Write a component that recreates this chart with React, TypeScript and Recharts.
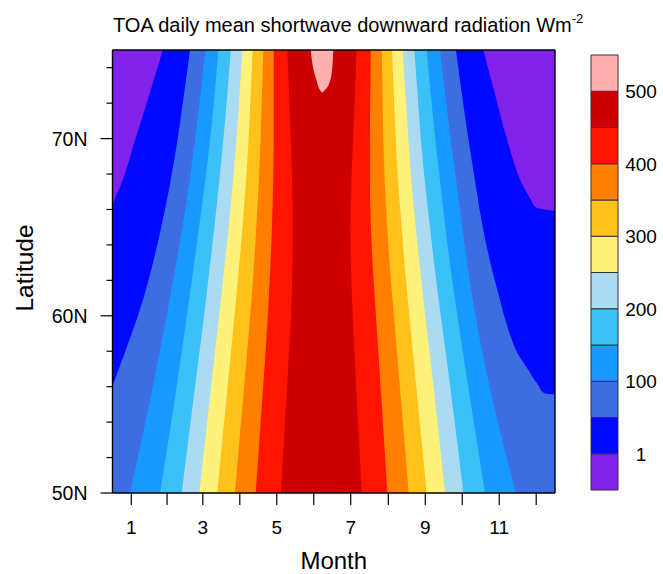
import React from 'react';
import { ComposedChart, Area, XAxis, YAxis, BarChart, Bar } from 'recharts';

const FONT = '"Liberation Sans", Arial, Helvetica, sans-serif';

// Contour levels (W m-2); band i sits between LEVELS[i-1] and LEVELS[i]
const LEVELS = [1, 50, 100, 150, 200, 250, 300, 350, 400, 450, 500];
const BAND_COLORS = [
  '#8122ea', '#0008ff', '#3c6ee2', '#1799ff', '#3bc0f8', '#acdaf1',
  '#fff27b', '#ffc21a', '#ff8000', '#ff1400', '#cc0000', '#ffb1b1',
];

// Month ticks placed at the middle of each month (day of year)
const MONTH_DAYS = [15.5, 45, 74.5, 105, 135.5, 166, 196.5, 227.5, 258, 288.5, 319, 349.5];
const MONTH_LABELS = ['1', '', '3', '', '5', '', '7', '', '9', '', '11', ''];
const LAT_TICKS = [50, 52, 54, 56, 58, 60, 62, 64, 66, 68, 70, 72, 74];
const LAT_LABELS: Record<number, string> = { 50: '50N', 60: '60N', 70: '70N' };

// Region where the daily mean reaches each level: [latitude, first day, last day]
const ABOVE_0 = [[50, 0, 365], [75, 0, 365]];
const ABOVE_1 = [
  [50, 0, 365], [65.9, 0, 365], [65.95, 0, 361], [66.1, 0, 350], [66.25, 0, 347.5],
  [66.5, 1.3, 345.5], [67.5, 7.5, 337.5], [70, 19, 325.2], [72.5, 30.5, 315.5], [75, 41.4, 305.9],
];
const ABOVE_50 = [
  [50, 0, 365], [55.55, 0, 365], [55.62, 0, 357], [55.8, 0, 353.5], [56, 0, 352],
  [56.3, 1.5, 348.8], [57, 5.2, 342.5], [57.5, 7.9, 337.5], [58, 10.6, 333.2],
  [59, 15.9, 327.6], [60, 21.0, 323.0], [61, 25.6, 319.2], [62.5, 31.6, 313.4],
  [65, 40.2, 305.4], [67.5, 47.6, 299.3], [70, 53.8, 293.5], [72.5, 59.0, 288.2], [75, 63.9, 283.3],
];
const ABOVE_100 = [
  [50, 14.4, 332.8], [52.5, 22.4, 323.4], [55, 30.3, 314.5], [57.5, 37.6, 306.4],
  [60, 44.6, 299.5], [62.5, 51.2, 293.5], [65, 57.6, 288.6], [67.5, 63.3, 283.9],
  [70, 68.2, 278.8], [72.5, 72.5, 274.4], [75, 76.5, 270.2],
];
const ABOVE_150 = [
  [50, 39.2, 307.3], [52.5, 45.0, 301.5], [55, 50.7, 295.7], [57.5, 56.1, 290.0],
  [60, 61.3, 284.5], [62.5, 66.4, 279.2], [65, 71.4, 274.6], [67.5, 76.2, 270.4],
  [70, 80.6, 266.2], [72.5, 84.2, 262.5], [75, 87.3, 259.2],
];
const ABOVE_200 = [
  [50, 57.1, 289.4], [52.5, 61.6, 285.0], [55, 66.2, 280.4], [57.5, 70.9, 275.7],
  [60, 75.5, 270.8], [62.5, 79.8, 266.1], [65, 84.0, 261.9], [67.5, 87.9, 257.8],
  [70, 91.5, 254.3], [72.5, 94.7, 251.6], [75, 97.5, 249.0],
];
const ABOVE_250 = [
  [50, 71.6, 274.3], [52.5, 75.6, 270.4], [55, 79.7, 266.4], [57.5, 83.8, 262.3],
  [60, 87.9, 258.0], [62.5, 91.9, 253.9], [65, 95.8, 250.1], [67.5, 99.2, 246.8],
  [70, 102.3, 244.0], [72.5, 104.8, 241.7], [75, 107.1, 239.4],
];
const ABOVE_300 = [
  [50, 86.4, 259.2], [52.5, 89.9, 255.6], [55, 93.5, 252.0], [57.5, 97.1, 248.4],
  [60, 100.6, 244.8], [62.5, 104.0, 241.5], [65, 107.2, 238.5], [67.5, 110.0, 235.7],
  [70, 112.3, 233.6], [72.5, 114.0, 232.1], [75, 115.6, 230.6],
];
const ABOVE_350 = [
  [50, 101.0, 244.3], [52.5, 104.1, 241.3], [55, 107.3, 238.3], [57.5, 110.5, 235.2],
  [60, 113.6, 232.1], [62.5, 116.3, 229.1], [65, 118.6, 226.6], [67.5, 120.6, 224.6],
  [70, 122.2, 223.4], [72.5, 123.3, 222.7], [75, 124.4, 222.1],
];
const ABOVE_400 = [
  [50, 118.1, 226.7], [52.5, 120.7, 224.4], [55, 123.2, 222.1], [57.5, 125.8, 219.7],
  [60, 128.1, 217.3], [62.5, 130.0, 214.9], [65, 131.5, 213.1], [67.5, 132.5, 212.3],
  [70, 133.0, 212.3], [72.5, 133.0, 212.6], [75, 133.0, 213.0],
];
const ABOVE_450 = [
  [50, 139.0, 205.6], [52.5, 141.0, 203.7], [55, 143.1, 201.8], [57.5, 145.3, 199.9],
  [60, 147.2, 198.2], [62.5, 148.3, 196.8], [65, 148.6, 196.2], [67.5, 148.2, 197.0],
  [70, 147.0, 198.5], [72.5, 145.6, 200.0], [75, 144.2, 201.4],
];
const ABOVE_500 = [
  [72.59, 173.0, 173.0], [72.75, 171.0, 175.5], [72.93, 169.8, 177.5],
  [73.3, 168.2, 179.7], [73.69, 166.5, 180.8], [75, 163.5, 182.1],
];

const BANDS = [
  ABOVE_0, ABOVE_1, ABOVE_50, ABOVE_100, ABOVE_150, ABOVE_200,
  ABOVE_250, ABOVE_300, ABOVE_350, ABOVE_400, ABOVE_450, ABOVE_500,
];

// One row per latitude; each band holds a [first day, last day] range or a gap
const CONTOUR_ROWS = Array.from(new Set(BANDS.flatMap((b) => b.map((p) => p[0]))))
  .sort((a, b) => a - b)
  .map((lat) => {
    const row: Record<string, any> = { lat };
    BANDS.forEach((band, i) => {
      const p = band.find((q) => q[0] === lat);
      row[`b${i}`] = p ? [p[1], p[2]] : [null, null];
    });
    return row;
  });

// Colour bar: one equal-height box per band
const COLORBAR_ROW: Record<string, any> = { name: 'bar' };
BAND_COLORS.forEach((_, i) => {
  COLORBAR_ROW[`s${i}`] = 1;
});
const COLORBAR_TICKS = LEVELS.map((_, i) => i + 1).filter((v) => v % 2 === 1);

const MAJOR_LEN = 12;
const MINOR_LEN = 6;
const LEFT_GAP = 13;
const AXIS_STROKE = '#000';

function LeftLatTick(props: any) {
  const { x, y, payload } = props;
  const edge = x + MAJOR_LEN + LEFT_GAP;
  const label = LAT_LABELS[payload.value];
  const len = label ? MAJOR_LEN : MINOR_LEN;
  return (
    <g>
      <line x1={edge - len} x2={edge} y1={y} y2={y} stroke={AXIS_STROKE} strokeWidth={1.2} />
      {label ? (
        <text x={x} y={y} dy="0.36em" textAnchor="end" fontSize={19.5} fontFamily={FONT} fill="#000">
          {label}
        </text>
      ) : null}
    </g>
  );
}

function RightLatTick(props: any) {
  const { x, y, payload } = props;
  const edge = x - MAJOR_LEN;
  const len = LAT_LABELS[payload.value] ? MAJOR_LEN : MINOR_LEN;
  return <line x1={edge} x2={edge + len} y1={y} y2={y} stroke={AXIS_STROKE} strokeWidth={1.2} />;
}

function ColorbarTick(props: any) {
  const { x, y, payload } = props;
  return (
    <text x={x} y={y} dy="0.36em" textAnchor="middle" fontSize={19} fontFamily={FONT} fill="#000">
      {String(LEVELS[payload.value - 1])}
    </text>
  );
}

export default function App() {
  return (
    <div style={{ position: 'absolute', left: 0, top: 0, width: 663, height: 574, background: '#fff' }}>
      <div style={{ position: 'absolute', left: 0, top: 0 }}>
        <ComposedChart
          layout="vertical"
          width={663}
          height={574}
          data={CONTOUR_ROWS}
          margin={{ top: 38, right: 96, bottom: 0, left: 12.5 }}
        >
          <XAxis
            xAxisId="bottom"
            type="number"
            orientation="bottom"
            domain={[0, 365]}
            ticks={MONTH_DAYS}
            interval={0}
            allowDataOverflow
            height={81}
            tickSize={MAJOR_LEN}
            tickMargin={16}
            tickFormatter={(_v: number, i: number) => MONTH_LABELS[i]}
            tick={{ fill: '#000', fontSize: 19, fontFamily: FONT }}
            tickLine={{ stroke: AXIS_STROKE, strokeWidth: 1.2 }}
            axisLine={{ stroke: AXIS_STROKE, strokeWidth: 1.4 }}
          />
          <XAxis
            xAxisId="top"
            type="number"
            orientation="top"
            domain={[0, 365]}
            ticks={MONTH_DAYS}
            interval={0}
            allowDataOverflow
            height={12}
            tickSize={MAJOR_LEN}
            tick={false}
            tickLine={{ stroke: AXIS_STROKE, strokeWidth: 1.2 }}
            axisLine={{ stroke: AXIS_STROKE, strokeWidth: 1.4 }}
          />
          <YAxis
            yAxisId="left"
            dataKey="lat"
            type="number"
            orientation="left"
            reversed
            domain={[50, 75]}
            ticks={LAT_TICKS}
            interval={0}
            allowDataOverflow
            width={100}
            tickSize={MAJOR_LEN}
            tickMargin={LEFT_GAP}
            tickLine={false}
            tick={LeftLatTick}
            axisLine={{ stroke: AXIS_STROKE, strokeWidth: 1.4 }}
          />
          <YAxis
            yAxisId="right"
            type="number"
            orientation="right"
            reversed
            domain={[50, 75]}
            ticks={LAT_TICKS}
            interval={0}
            allowDataOverflow
            width={12}
            tickSize={MAJOR_LEN}
            tickMargin={0}
            tickLine={false}
            tick={RightLatTick}
            axisLine={{ stroke: AXIS_STROKE, strokeWidth: 1.4 }}
          />
          {BANDS.map((_, i) => (
            <Area
              key={i}
              xAxisId="bottom"
              yAxisId="left"
              dataKey={`b${i}`}
              type="monotone"
              fill={BAND_COLORS[i]}
              fillOpacity={1}
              stroke="none"
              connectNulls
              dot={false}
              activeDot={false}
              isAnimationActive={false}
            />
          ))}
        </ComposedChart>
      </div>
      <div style={{ position: 'absolute', left: 581, top: 45 }}>
        <BarChart
          width={82}
          height={455}
          data={[COLORBAR_ROW]}
          margin={{ top: 10, right: 0, bottom: 10, left: 10 }}
          barCategoryGap={0}
          barGap={0}
        >
          <XAxis dataKey="name" type="category" hide />
          <YAxis
            orientation="right"
            type="number"
            domain={[0, BAND_COLORS.length]}
            ticks={COLORBAR_TICKS}
            interval={0}
            width={45}
            tickSize={0}
            tickMargin={23}
            tickLine={false}
            axisLine={false}
            tick={ColorbarTick}
          />
          {BAND_COLORS.map((c, i) => (
            <Bar
              key={i}
              dataKey={`s${i}`}
              stackId="cb"
              fill={c}
              stroke="#333"
              strokeWidth={1}
              isAnimationActive={false}
            />
          ))}
        </BarChart>
      </div>
      <svg
        width={663}
        height={574}
        style={{ position: 'absolute', left: 0, top: 0, pointerEvents: 'none' }}
      >
        <text x={113} y={31.5} fontSize={20} fontFamily={FONT} fill="#000">
          TOA daily mean shortwave downward radiation Wm
          <tspan dy={-9} fontSize={13}>-2</tspan>
        </text>
        <text x={333.75} y={568.8} fontSize={24} fontFamily={FONT} fill="#000" textAnchor="middle">
          Month
        </text>
        <text
          transform="translate(33 268) rotate(-90)"
          fontSize={24.5}
          fontFamily={FONT}
          fill="#000"
          textAnchor="middle"
        >
          Latitude
        </text>
      </svg>
    </div>
  );
}
